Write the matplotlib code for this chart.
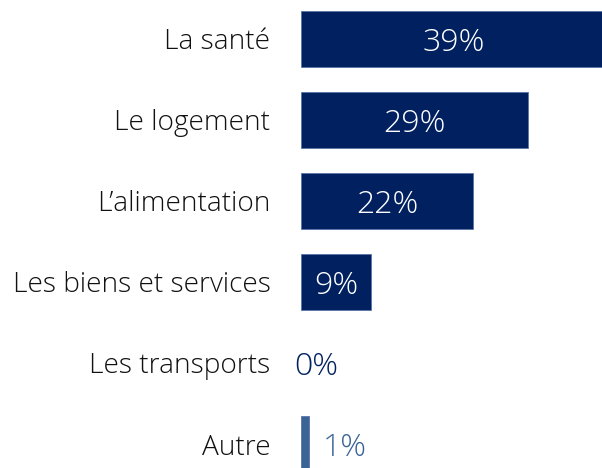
import matplotlib.pyplot as plt

# catégories et valeurs (%)
categories = ['La santé', 'Le logement', 'L\u2019alimentation', 'Les biens et services', 'Les transports', 'Autre']
values = [39, 29, 22, 9, 0, 1]
value_labels = ['39%', '29%', '22%', '9%', '0%', '1%']

NAVY = '#002060'
LIGHT = '#3a6496'
colors = [NAVY, NAVY, NAVY, NAVY, NAVY, LIGHT]

plt.rcParams['font.family'] = ['Open Sans', 'DejaVu Sans']

fig = plt.figure(figsize=(6.02, 4.68), dpi=100)
ax = fig.add_axes([0.5, 0.0, 0.5, 1.0])

y = list(range(len(categories)))
edge_w = [0.6 if v > 0 else 0 for v in values]
ax.barh(y, values, height=0.69, color=colors, edgecolor='#5b74a8', linewidth=edge_w)

ax.set_xlim(0, 38.5)
ax.set_ylim(5.296, -0.48)
ax.set_yticks(y)
ax.set_yticklabels(categories, fontsize=20.2, color='#111111', fontweight='light')
ax.tick_params(axis='y', length=0, pad=22)
ax.set_xticks([])
for s in ax.spines.values():
    s.set_visible(False)

for i, (v, lab) in enumerate(zip(values, value_labels)):
    if v >= 5:
        ax.text(v / 2, i, lab, ha='center', va='center_baseline', color='white',
                fontsize=23, fontweight='light')
    elif v == 0:
        ax.annotate(lab, (v, i), xytext=(-5, 0), textcoords='offset points',
                    ha='left', va='center_baseline', color=NAVY, fontsize=23, fontweight='light')
    else:
        ax.annotate(lab, (v, i), xytext=(10, 0), textcoords='offset points',
                    ha='left', va='center_baseline', color=colors[i], fontsize=23, fontweight='light')

fig.savefig('out.png', dpi=100)
